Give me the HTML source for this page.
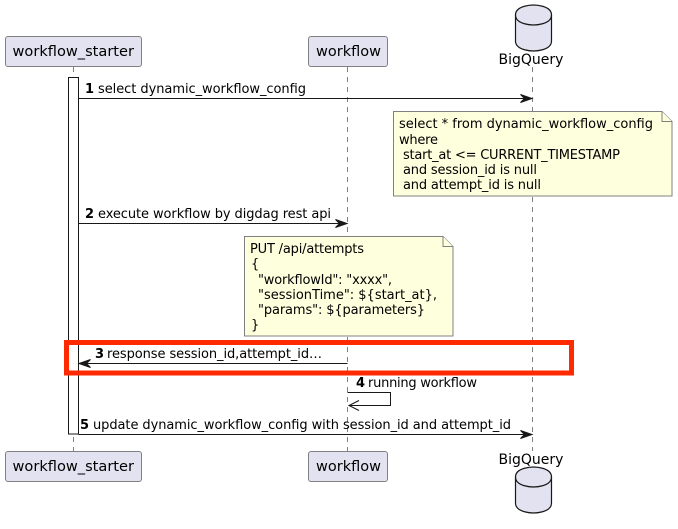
<!DOCTYPE html>
<html><head><meta charset="utf-8"><style>
html,body{margin:0;padding:0;background:#fff}
svg{display:block}
text{font-family:"DejaVu Sans",sans-serif;fill:#000;white-space:pre}
.m{font-size:13px}
.p{font-size:14px}
.b{font-weight:bold}
</style></head><body>
<svg width="678" height="529" viewBox="0 0 678 529" xmlns="http://www.w3.org/2000/svg">
<rect width="678" height="529" fill="#fff"/>
<g stroke="#808080" stroke-width="1" stroke-dasharray="5,5" fill="none">
<line x1="73.5" y1="67" x2="73.5" y2="451"/>
<line x1="347.5" y1="67" x2="347.5" y2="451"/>
<line x1="532.5" y1="67" x2="532.5" y2="451"/>
</g>
<g fill="#E2E2F0" stroke="#808080" stroke-width="1">
<rect x="5.5" y="36.5" width="136" height="30" rx="2.5"/>
<rect x="308.5" y="36.5" width="79" height="30" rx="2.5"/>
<rect x="5.5" y="451.5" width="136" height="30" rx="2.5"/>
<rect x="308.5" y="451.5" width="79" height="30" rx="2.5"/>
</g>
<text class="p" x="12.5" y="56" textLength="121.5" lengthAdjust="spacingAndGlyphs">workflow_starter</text>
<text class="p" x="316" y="56" textLength="65" lengthAdjust="spacingAndGlyphs">workflow</text>
<text class="p" x="12.5" y="471" textLength="121.5" lengthAdjust="spacingAndGlyphs">workflow_starter</text>
<text class="p" x="316" y="471" textLength="65" lengthAdjust="spacingAndGlyphs">workflow</text>
<text class="p" x="498.5" y="64">BigQuery</text>
<text class="p" x="498.5" y="464">BigQuery</text>
<g fill="#E2E2F0" stroke="#181818" stroke-width="1.2">
<path d="M515.5 15 C515.5 5 533.5 5 533.5 5 C533.5 5 551.5 5 551.5 15 L551.5 41 C551.5 51 533.5 51 533.5 51 C533.5 51 515.5 51 515.5 41 Z"/>
<path d="M515.5 15 C515.5 25 533.5 25 533.5 25 C533.5 25 551.5 25 551.5 15" fill="none"/>
<path d="M515.5 477 C515.5 467 533.5 467 533.5 467 C533.5 467 551.5 467 551.5 477 L551.5 503 C551.5 513 533.5 513 533.5 513 C533.5 513 515.5 513 515.5 503 Z"/>
<path d="M515.5 477 C515.5 487 533.5 487 533.5 487 C533.5 487 551.5 487 551.5 477" fill="none"/>
</g>
<rect x="68.5" y="77.5" width="10" height="356.5" fill="#fff" stroke="#181818" stroke-width="1"/>
<g stroke="#181818" stroke-width="1" fill="none">
<line x1="78.5" y1="98.5" x2="527" y2="98.5"/>
<line x1="78.5" y1="223.5" x2="342" y2="223.5"/>
<line x1="84" y1="363.5" x2="347.5" y2="363.5"/>
<path d="M347.5 392.5 H390.5 V405.5 H349"/>
<path d="M359 400.5 L349 405.5 L359 410.5"/>
<line x1="78.5" y1="434.5" x2="527" y2="434.5"/>
</g>
<g fill="#181818" stroke="#181818" stroke-width="1">
<path d="M520.5 94.5 L532 98.5 L520.5 102.5 L524.5 98.5 Z"/>
<path d="M335.5 219.5 L347 223.5 L335.5 227.5 L339.5 223.5 Z"/>
<path d="M90.5 359.5 L79 363.5 L90.5 367.5 L86.5 363.5 Z"/>
<path d="M520.5 430.5 L532 434.5 L520.5 438.5 L524.5 434.5 Z"/>
</g>
<text class="m b" x="85" y="93">1</text><text class="m" x="98" y="93" textLength="208">select dynamic_workflow_config</text>
<text class="m b" x="85" y="218">2</text><text class="m" x="98" y="218" textLength="233">execute workflow by digdag rest api</text>
<text class="m b" x="95" y="358">3</text><text class="m" x="107" y="358" textLength="215">response session_id,attempt_id…</text>
<text class="m b" x="356" y="387">4</text><text class="m" x="368" y="387" textLength="109">running workflow</text>
<text class="m b" x="80" y="429">5</text><text class="m" x="93" y="429" textLength="418">update dynamic_workflow_config with session_id and attempt_id</text>
<g fill="#FEFFDD" stroke="#808080" stroke-width="1">
<path d="M393.5 111.5 H662 L672 121.5 V196 H393.5 Z"/>
<path d="M662 111.5 V121.5 H672" />
<path d="M244.5 236.5 H443 L453 246.5 V336 H244.5 Z"/>
<path d="M443 236.5 V246.5 H453"/>
</g>
<text class="m" x="399" y="128" textLength="254">select * from dynamic_workflow_config</text>
<text class="m" x="399" y="144" textLength="39">where</text>
<text class="m" x="403" y="159" textLength="217">start_at &lt;= CURRENT_TIMESTAMP</text>
<text class="m" x="403" y="174" textLength="134">and session_id is null</text>
<text class="m" x="403" y="189" textLength="138">and attempt_id is null</text>
<text class="m" x="250" y="253" textLength="114">PUT /api/attempts</text>
<text class="m" x="251" y="268">{</text>
<text class="m" x="258" y="284" textLength="134">"workflowId": "xxxx",</text>
<text class="m" x="258" y="299" textLength="179">"sessionTime": ${start_at},</text>
<text class="m" x="258" y="314" textLength="167">"params": ${parameters}</text>
<text class="m" x="251" y="329">}</text>
<rect x="66.5" y="342.5" width="505" height="30.5" fill="none" stroke="#FF2A00" stroke-width="5"/>
</svg>
</body></html>
